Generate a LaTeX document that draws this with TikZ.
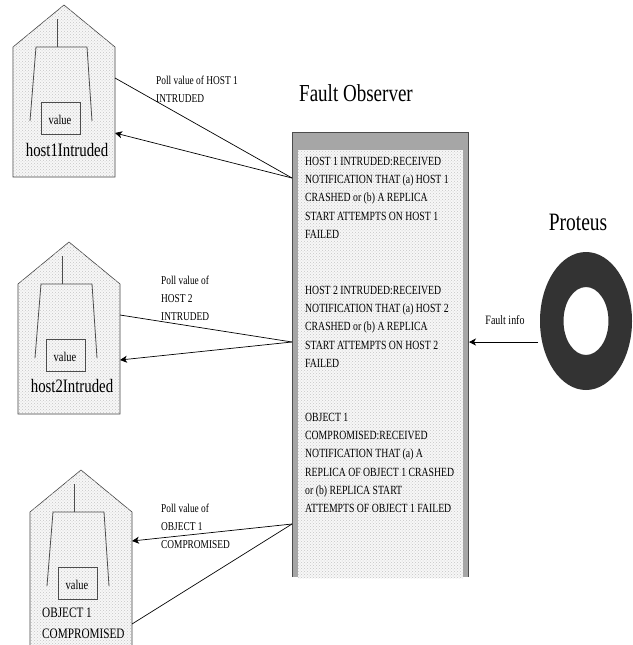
\documentclass[tikz,border=0pt]{standalone}
\usepackage{fontspec}
\setmainfont[FakeStretch=0.78]{Liberation Serif}
\usetikzlibrary{
  arrows.meta,              % Stealth
  patterns                  % dotted fill
}
\tikzset{
  dotted fill/.style={
    fill=gray!6,
    postaction={pattern=crosshatch dots, pattern color=gray!45}
  },
  house edge/.style={
    draw=black!75,
    line width=0.6pt
  },
  house inner/.style={
    draw=black!70,
    line width=0.8pt
  },
  link/.style={
    draw=black,
    line width=0.7pt
  },
  poll label/.style={
    font=\fontsize{12}{18}\selectfont,
    align=left,
    anchor=north west,
    inner sep=0pt
  },
  panel label/.style={
    font=\fontsize{12.5}{18.2}\selectfont,
    align=left,
    anchor=north west,
    inner sep=0pt
  }
}

\begin{document}
\begin{tikzpicture}[x=1pt, y=-1pt, >={Stealth[length=7pt, width=7pt, inset=2pt]}]
    \clip (0,0) rectangle (632,645);

    % --- the three houses ---
    \foreach \i/\dx/\dy/\low in {1/0/0/177, 2/5/237/177, 3/17/465/190} {
      \begin{scope}[shift={(\dx,\dy)}]
        \draw[house edge, dotted fill] (13,47) -- (64,5) -- (115,47) -- (115,\low) -- (13,\low) -- cycle;
        \draw[house inner] (57,19) -- (57,47);
        \draw[house inner] (30,121) -- (36,47) -- (87,47) -- (92,121);
        \draw[house inner] (41,102) rectangle (80,134);
        \node[font=\fontsize{13.4}{14}\selectfont, inner sep=0pt] (value\i) at (60,120) {value};
        \coordinate (out\i) at (115,78);
      \end{scope}
    }

    % house names
    \node[font=\fontsize{19}{20}\selectfont, inner sep=0pt] (nameA) at (67,150) {host1Intruded};
    \node[font=\fontsize{19}{20}\selectfont, inner sep=0pt] (nameB) at (72,386) {host2Intruded};
    \node[font=\fontsize{14.4}{21}\selectfont, align=left, anchor=north west, inner sep=0pt] (nameC) at (42,608) {OBJECT 1\\COMPROMISED};

    % --- Fault Observer panel ---
    \node[font=\fontsize{24.4}{26}\selectfont, inner sep=0pt] (observer) at (356,93) {Fault Observer};
    \fill[gray!70] (292,132) rectangle (468,577);
    \draw[black!70, line width=0.7pt] (292,577) -- (292,132) -- (468,132) -- (468,577);
    \fill[dotted fill] (298,150) rectangle (463,578);

    \node[panel label] (textA) at (305,157) {HOST 1 INTRUDED:RECEIVED\\NOTIFICATION THAT (a) HOST 1\\CRASHED or (b) A REPLICA\\START ATTEMPTS ON HOST 1\\FAILED};
    \node[panel label] (textB) at (305,286) {HOST 2 INTRUDED:RECEIVED\\NOTIFICATION THAT (a) HOST 2\\CRASHED or (b) A REPLICA\\START ATTEMPTS ON HOST 2\\FAILED};
    \node[panel label] (textC) at (305,413) {OBJECT 1\\COMPROMISED:RECEIVED\\NOTIFICATION THAT (a) A\\REPLICA OF OBJECT 1 CRASHED\\or (b) REPLICA START\\ATTEMPTS OF OBJECT 1 FAILED};

    % --- links between houses and panel ---
    \coordinate (portA) at (292,178);
    \coordinate (inA) at (115,133);
    \coordinate (portB) at (292,342);
    \coordinate (inB) at (120,360);
    \coordinate (portC) at (292,524);
    \coordinate (inC) at (132,541);
    \coordinate (lowC) at (132,624);

    \draw[link] (out1) -- (portA);
    \draw[link, ->] (portA) -- (inA);
    \draw[link] (out2) -- (portB);
    \draw[link, ->] (portB) -- (inB);
    \draw[link, ->] (portC) -- (inC);
    \draw[link] (lowC) -- (portC);

    \node[poll label] (pollA) at (156,76) {Poll value of HOST 1\\INTRUDED};
    \node[poll label] (pollB) at (161,276) {Poll value of\\HOST 2\\INTRUDED};
    \node[poll label] (pollC) at (161,504) {Poll value of\\OBJECT 1\\COMPROMISED};

    % --- Proteus ring ---
    \node[font=\fontsize{25}{27}\selectfont, inner sep=0pt] (proteus) at (578,222) {Proteus};
    \fill[black!80, even odd rule] (586,321) ellipse [x radius=46, y radius=69] (586,321) ellipse [x radius=22.5, y radius=34];

    \coordinate (ringport) at (538,342);
    \coordinate (panelport) at (469,342);
    \draw[link, ->] (ringport) -- (panelport);
    \node[font=\fontsize{12.8}{14}\selectfont, inner sep=0pt] (info) at (505,320) {Fault info};
\end{tikzpicture}
\end{document}
